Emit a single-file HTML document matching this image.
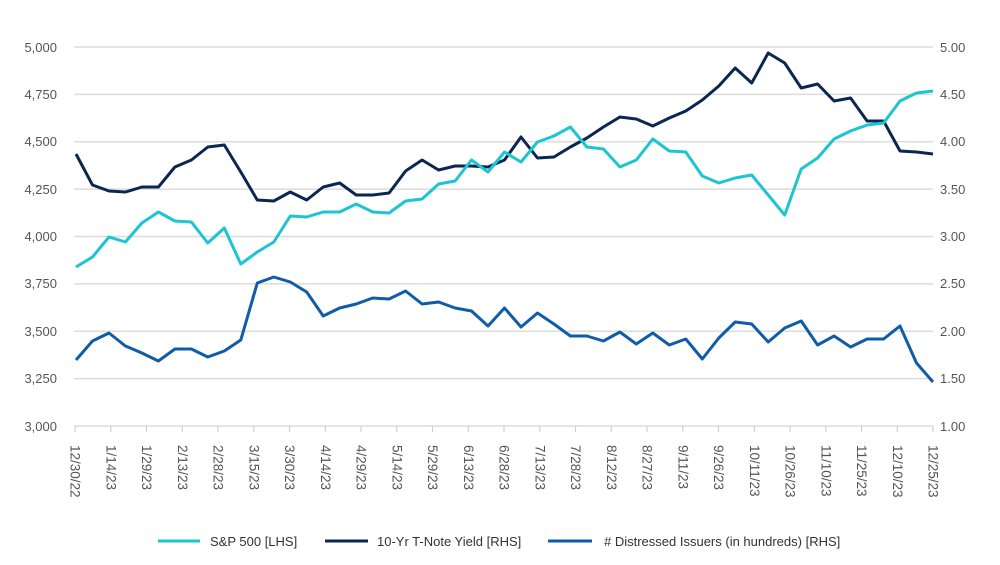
<!DOCTYPE html>
<html><head><meta charset="utf-8"><style>
html,body{margin:0;padding:0;background:#fff;}
svg{display:block;font-family:"Liberation Sans",sans-serif;}
</style></head><body>
<svg width="1000" height="565" viewBox="0 0 1000 565" xmlns="http://www.w3.org/2000/svg">
<g stroke="#dcdcdc" stroke-width="1.5">
<line x1="74" x2="933" y1="47" y2="47"/><line x1="74" x2="933" y1="94.4" y2="94.4"/>
<line x1="74" x2="933" y1="141.75" y2="141.75"/><line x1="74" x2="933" y1="189.1" y2="189.1"/>
<line x1="74" x2="933" y1="236.5" y2="236.5"/><line x1="74" x2="933" y1="283.9" y2="283.9"/>
<line x1="74" x2="933" y1="331.25" y2="331.25"/><line x1="74" x2="933" y1="378.6" y2="378.6"/>
<line x1="74" x2="933" y1="426" y2="426"/>
</g>
<g id="ticks" stroke="#d0d0d0" stroke-width="1.2"></g>
<g font-size="13" fill="#555" text-anchor="end">
<text x="57" y="52">5,000</text><text x="57" y="99">4,750</text><text x="57" y="146">4,500</text>
<text x="57" y="194">4,250</text><text x="57" y="241">4,000</text><text x="57" y="288">3,750</text>
<text x="57" y="336">3,500</text><text x="57" y="383">3,250</text><text x="57" y="431">3,000</text>
</g>
<g font-size="13" fill="#555">
<text x="940" y="52">5.00</text><text x="940" y="99">4.50</text><text x="940" y="146">4.00</text>
<text x="940" y="194">3.50</text><text x="940" y="241">3.00</text><text x="940" y="288">2.50</text>
<text x="940" y="336">2.00</text><text x="940" y="383">1.50</text><text x="940" y="431">1.00</text>
</g>
<g font-size="13.5" fill="#555" id="xl"></g>
<g fill="none" stroke-width="3" stroke-linejoin="round">
<polyline id="blue" stroke="#0f5ca8"/>
<polyline id="navy" stroke="#0b2650"/>
<polyline id="cyan" stroke="#1cc5d2"/>
</g>
<g font-size="13" fill="#333">
<line x1="158" x2="200" y1="541" y2="541" stroke="#1cc5d2" stroke-width="3"/>
<text x="210" y="546">S&amp;P 500 [LHS]</text>
<line x1="325" x2="368" y1="541" y2="541" stroke="#0b2650" stroke-width="3"/>
<text x="377" y="546">10-Yr T-Note Yield [RHS]</text>
<line x1="548" x2="592" y1="541" y2="541" stroke="#0f5ca8" stroke-width="3"/>
<text x="604" y="546">#  Distressed Issuers (in hundreds) [RHS]</text>
</g>
</svg>
<script>
var cy=[267,257,237,242,223,212,221,222,243,228,264,252,242,216,217,212,212,204,212,213,201,199,184,181,160,172,152,162,142,136,127,147,149,167,160,139,151,152,176,183,178,175,195,215,169,158,139,131,125,123,101,93,91];
var nv=[154,185,191,192,187,187,167,160,147,145,172,200,201,192,200,187,183,195,195,193,171,160,170,166,166,167,160,137,158,157,147,138,127,117,119,126,118,111,100,86,68,83,53,63,88,84,101,98,121,121,151,152,154];
var bl=[360,341,333,346,353,361,349,349,357,351,340,283,277,282,292,316,308,304,298,299,291,304,302,308,311,326,308,327,313,324,336,336,341,332,344,333,345,339,359,338,322,324,342,328,321,345,336,347,339,339,326,363,382];
function pts(a){return a.map(function(y,i){return (76+i*857/52).toFixed(1)+","+y}).join(" ");}
document.getElementById("cyan").setAttribute("points",pts(cy));
document.getElementById("navy").setAttribute("points",pts(nv));
document.getElementById("blue").setAttribute("points",pts(bl));
var labs=["12/30/22","1/14/23","1/29/23","2/13/23","2/28/23","3/15/23","3/30/23","4/14/23","4/29/23","5/14/23","5/29/23","6/13/23","6/28/23","7/13/23","7/28/23","8/12/23","8/27/23","9/11/23","9/26/23","10/11/23","10/26/23","11/10/23","11/25/23","12/10/23","12/25/23"];
var g=document.getElementById("xl"),s="",t="";
labs.forEach(function(l,k){var x=75+k*858/24;
s+='<text transform="translate('+(x-4.5).toFixed(1)+',445) rotate(90)">'+l+'</text>';
t+='<line x1="'+x.toFixed(1)+'" x2="'+x.toFixed(1)+'" y1="426" y2="432"/>';});
g.innerHTML=s;document.getElementById("ticks").innerHTML=t;
</script>
</body></html>
